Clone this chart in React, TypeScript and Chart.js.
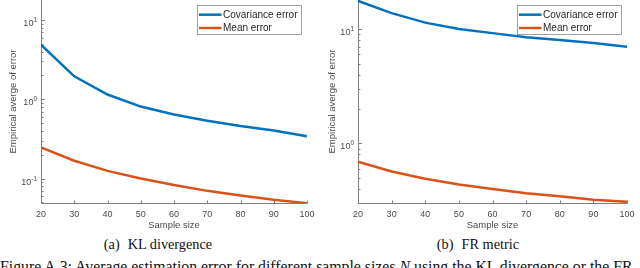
import React, { useEffect, useRef } from 'react';
import { Chart, registerables } from 'chart.js';

Chart.register(...registerables);

// ---- data ----
const sampleSizes = [20, 30, 40, 50, 60, 70, 80, 90, 100];
const klCovError = [4.88, 1.95, 1.15, 0.81, 0.645, 0.535, 0.46, 0.405, 0.343];
const klMeanError = [0.247, 0.168, 0.125, 0.1, 0.083, 0.07, 0.061, 0.054, 0.049];
const frCovError = [17.7, 13.8, 11.4, 10.05, 9.23, 8.51, 8.02, 7.55, 7.01];
const frMeanError = [0.69, 0.567, 0.489, 0.436, 0.397, 0.366, 0.343, 0.321, 0.307];
const seriesLabels = ['Covariance error', 'Mean error'];
const klYRange = [0.0492, 17.9];
const frYRange = [0.308, 18.0];
const xRange = [20, 100];
const xStep = 10;
const xTitle = 'Sample size';
const yTitle = 'Empirical averge of error';

const BLUE = '#0072BD';
const ORANGE = '#D95319';
const AXIS = '#808080';
const TEXT = '#4a4a4a';
const SANS = '"Liberation Sans", Arial, sans-serif';
const SERIF = '"Liberation Serif", "Times New Roman", serif';

const matlabAxes = {
  id: 'matlabAxes',
  beforeDatasetsDraw(chart: any) {
    const { ctx, chartArea: a, scales } = chart;
    const x = scales.x;
    const y = scales.y;
    ctx.save();
    ctx.strokeStyle = AXIS;
    ctx.lineWidth = 1;
    const ax = Math.round(a.left) + 0.5;
    const ay = Math.round(a.bottom) + 0.5;
    ctx.beginPath();
    ctx.moveTo(ax, a.top);
    ctx.lineTo(ax, ay);
    ctx.lineTo(a.right, ay);
    ctx.stroke();
    // x ticks (inward)
    ctx.beginPath();
    x.ticks.forEach((t: any) => {
      const px = Math.round(x.getPixelForValue(t.value)) + 0.5;
      ctx.moveTo(px, ay);
      ctx.lineTo(px, ay - 3);
    });
    ctx.stroke();
    // y ticks (log, inward) with superscript labels
    const lo = Math.floor(Math.log10(y.min));
    const hi = Math.ceil(Math.log10(y.max));
    ctx.beginPath();
    const labels: Array<[number, number]> = [];
    for (let e = lo; e <= hi; e++) {
      for (let k = 1; k <= 9; k++) {
        const v = k * Math.pow(10, e);
        if (v < y.min || v > y.max) continue;
        const py = Math.round(y.getPixelForValue(v)) + 0.5;
        const len = k === 1 ? 3.5 : 2;
        ctx.moveTo(ax, py);
        ctx.lineTo(ax + len, py);
        if (k === 1) labels.push([e, py]);
      }
    }
    ctx.stroke();
    ctx.fillStyle = TEXT;
    ctx.textAlign = 'right';
    ctx.textBaseline = 'alphabetic';
    labels.forEach(([e, py]) => {
      const exp = String(e);
      ctx.font = `6.5px ${SANS}`;
      const ew = ctx.measureText(exp).width;
      const right = a.left - 4;
      ctx.fillText(exp, right, py + 1.5);
      ctx.font = `9px ${SANS}`;
      ctx.fillText('10', right - ew, py + 5);
    });
    ctx.restore();
  },
  afterDraw(chart: any) {
    const { ctx, chartArea: a } = chart;
    const bw = 104;
    const bh = 29;
    const bx = Math.round(a.right - 6 - bw) + 0.5;
    const by = 5.5;
    ctx.save();
    ctx.fillStyle = '#ffffff';
    ctx.fillRect(bx, by, bw, bh);
    ctx.strokeStyle = '#a0a0a0';
    ctx.lineWidth = 1;
    ctx.strokeRect(bx, by, bw, bh);
    chart.data.datasets.forEach((ds: any, i: number) => {
      const ly = by + 9.2 + i * 13.3;
      ctx.strokeStyle = ds.borderColor;
      ctx.lineWidth = 2.5;
      ctx.beginPath();
      ctx.moveTo(bx + 1.5, ly);
      ctx.lineTo(bx + 24, ly);
      ctx.stroke();
      ctx.fillStyle = '#262626';
      ctx.font = `10px ${SANS}`;
      ctx.textAlign = 'left';
      ctx.textBaseline = 'middle';
      ctx.fillText(ds.label, bx + 25.5, ly + 0.5);
    });
    ctx.restore();
  },
};

function ErrorChart(props: {
  cov: number[];
  mean: number[];
  yRange: number[];
  left: number;
  yAxisWidth: number;
  titlePad: number;
}) {
  const ref = useRef<HTMLCanvasElement | null>(null);
  useEffect(() => {
    if (!ref.current) return;
    const chart = new Chart(ref.current, {
      type: 'line',
      data: {
        datasets: [
          {
            label: seriesLabels[0],
            data: sampleSizes.map((s, i) => ({ x: s, y: props.cov[i] })),
            borderColor: BLUE,
            backgroundColor: BLUE,
            borderWidth: 2.5,
            pointRadius: 0,
            tension: 0,
          },
          {
            label: seriesLabels[1],
            data: sampleSizes.map((s, i) => ({ x: s, y: props.mean[i] })),
            borderColor: ORANGE,
            backgroundColor: ORANGE,
            borderWidth: 2.5,
            pointRadius: 0,
            tension: 0,
          },
        ],
      },
      options: {
        responsive: false,
        animation: false,
        devicePixelRatio: 1,
        layout: { padding: { left: 0, right: 13, top: 0, bottom: 0 } },
        plugins: { legend: { display: false }, tooltip: { enabled: false } },
        scales: {
          x: {
            type: 'linear',
            min: xRange[0],
            max: xRange[1],
            grid: { display: false, drawTicks: false },
            border: { display: false },
            ticks: {
              stepSize: xStep,
              padding: 6,
              color: TEXT,
              font: { family: SANS, size: 9 },
              maxRotation: 0,
              autoSkip: false,
            },
            title: {
              display: true,
              text: xTitle,
              color: TEXT,
              font: { family: SANS, size: 9.5 },
              padding: { top: 0, bottom: 4 },
            },
            afterFit: (s: any) => {
              s.height = 32;
              s.paddingLeft = 0;
              s.paddingRight = 0;
            },
          },
          y: {
            type: 'logarithmic',
            min: props.yRange[0],
            max: props.yRange[1],
            grid: { display: false, drawTicks: false },
            border: { display: false },
            ticks: { display: false },
            title: {
              display: true,
              text: yTitle,
              color: TEXT,
              font: { family: SANS, size: 9.5 },
              padding: { top: props.titlePad, bottom: 0 },
            },
            afterFit: (s: any) => {
              s.width = props.yAxisWidth;
              s.paddingTop = 0;
              s.paddingBottom = 0;
            },
          },
        },
      } as any,
      plugins: [matlabAxes],
    });
    return () => chart.destroy();
  }, []);
  return (
    <canvas
      ref={ref}
      width={320}
      height={235}
      style={{ position: 'absolute', left: props.left, top: 0, width: 320, height: 235 }}
    />
  );
}

export default function App() {
  return (
    <div
      style={{
        position: 'absolute',
        left: 0,
        top: 0,
        width: 640,
        height: 268,
        overflow: 'hidden',
        background: '#ffffff',
      }}
    >
      <ErrorChart cov={klCovError} mean={klMeanError} yRange={klYRange} left={0} yAxisWidth={41} titlePad={7.8} />
      <ErrorChart cov={frCovError} mean={frMeanError} yRange={frYRange} left={320} yAxisWidth={38} titlePad={6.8} />
      <div
        style={{
          position: 'absolute',
          left: 58,
          width: 200,
          top: 236.6,
          textAlign: 'center',
          fontFamily: SERIF,
          fontSize: 14.3,
          lineHeight: '1',
          color: '#111',
          whiteSpace: 'nowrap',
        }}
      >
        (a)<span style={{ marginLeft: 8 }}>KL divergence</span>
      </div>
      <div
        style={{
          position: 'absolute',
          left: 378,
          width: 200,
          top: 236.6,
          textAlign: 'center',
          fontFamily: SERIF,
          fontSize: 14.3,
          lineHeight: '1',
          color: '#111',
          whiteSpace: 'nowrap',
        }}
      >
        (b)<span style={{ marginLeft: 8 }}>FR metric</span>
      </div>
      <div
        style={{
          position: 'absolute',
          left: 0,
          top: 259.2,
          fontFamily: SERIF,
          fontSize: 15.8,
          lineHeight: '1',
          color: '#111',
          whiteSpace: 'nowrap',
        }}
      >
        Figure A.3: Average estimation error for different sample sizes <i>N</i> using the KL divergence or the FR
      </div>
    </div>
  );
}
